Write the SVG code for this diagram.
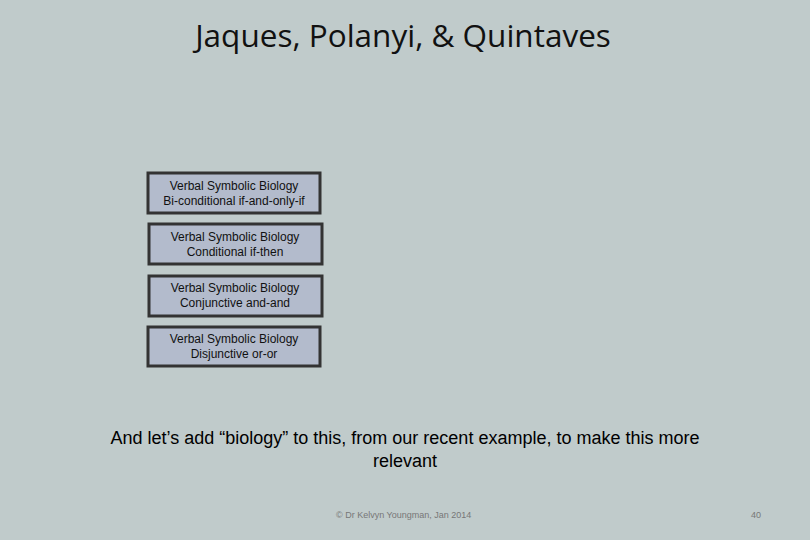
<svg xmlns="http://www.w3.org/2000/svg" width="810" height="540" viewBox="0 0 810 540">
<style>
.box{fill:#b3bbcc;stroke:#333;stroke-width:3}
.bt{font-family:"Liberation Sans",Arial,sans-serif;font-size:12px;fill:#111;text-anchor:middle}
.title{font-family:"Open Sans","Liberation Sans",sans-serif;font-size:31.5px;fill:#111;text-anchor:middle}
.body{font-family:"Liberation Sans",Arial,sans-serif;font-size:18px;fill:#000;text-anchor:middle}
.foot{font-family:"Liberation Sans",Arial,sans-serif;font-size:9px;fill:#777}
</style>
<rect width="810" height="540" fill="#c0cbcb"/>
<text class="title" x="403" y="47">Jaques, Polanyi, &amp; Quintaves</text>
<g id="n1"><rect class="box" x="148" y="173" width="172" height="40"/><text class="bt" x="234" y="190">Verbal Symbolic Biology</text><text class="bt" x="234" y="205">Bi-conditional if-and-only-if</text></g>
<g id="n2"><rect class="box" x="149" y="224" width="173" height="40"/><text class="bt" x="235" y="241">Verbal Symbolic Biology</text><text class="bt" x="235" y="256">Conditional if-then</text></g>
<g id="n3"><rect class="box" x="149" y="276" width="173" height="40"/><text class="bt" x="235" y="292">Verbal Symbolic Biology</text><text class="bt" x="235" y="307">Conjunctive and-and</text></g>
<g id="n4"><rect class="box" x="148" y="327" width="172" height="39"/><text class="bt" x="234" y="343">Verbal Symbolic Biology</text><text class="bt" x="234" y="358">Disjunctive or-or</text></g>
<g id="connectors"></g>
<text class="body" x="405" y="444">And let’s add “biology” to this, from our recent example, to make this more</text>
<text class="body" x="405" y="467">relevant</text>
<text class="foot" x="336" y="518">© Dr Kelvyn Youngman, Jan 2014</text>
<text class="foot" x="751" y="518">40</text>
</svg>
